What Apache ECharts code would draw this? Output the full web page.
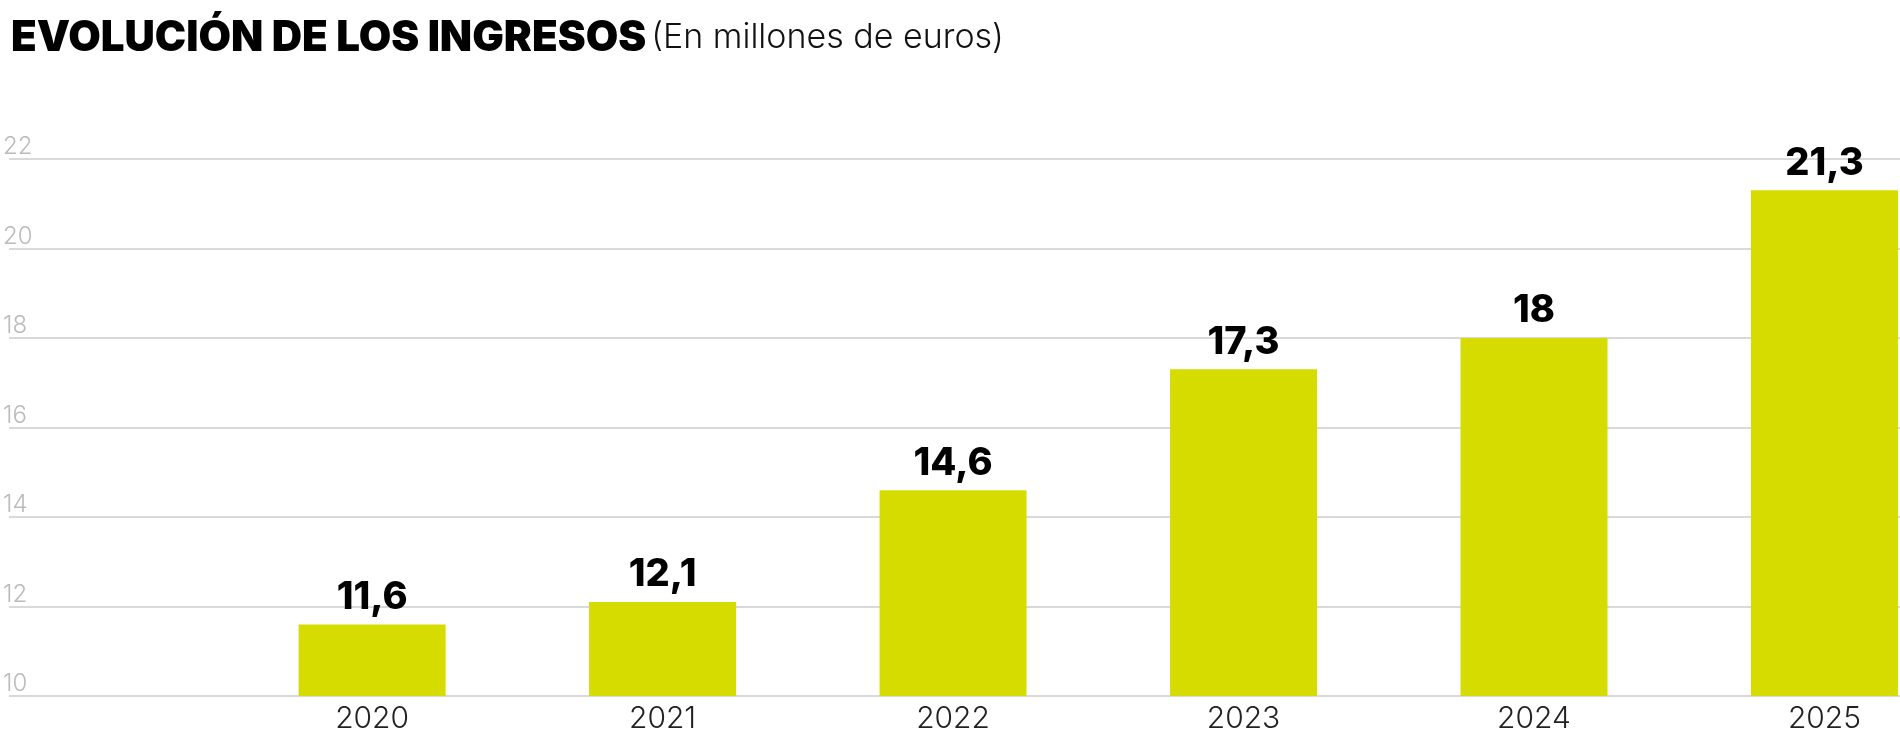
<!DOCTYPE html><html><head><meta charset="utf-8"><script src="https://cdn.jsdelivr.net/npm/echarts@6/dist/echarts.min.js"></script>
<style>body{margin:0}#c{width:1900px;height:739px}</style></head><body><div id="c"></div><script>
const years=['2020','2021','2022','2023','2024','2025'];
const values=[11.6,12.1,14.6,17.3,18,21.3];
const labels=['11,6','12,1','14,6','17,3','18','21,3'];
const yTicks=[10,12,14,16,18,20,22];
const ch=echarts.init(document.getElementById('c'));
ch.setOption({
 animation:false,
 title:{left:6,top:12,text:'{b|EVOLUCIÓN DE LOS INGRESOS} {l|(En millones de euros)}',
  textStyle:{rich:{b:{fontFamily:'Inter',fontWeight:900,fontSize:42,color:'#000'},l:{fontFamily:'Inter',fontWeight:300,fontSize:34,color:'#111'}}}},
 grid:{left:0,right:0,top:159,bottom:43},
 xAxis:{type:'value',min:-1.25,max:5.26,splitLine:{show:false},
  axisLine:{show:false},axisTick:{show:false},
  axisLabel:{customValues:[0,1,2,3,4,5],formatter:v=>years[Math.round(v)],fontFamily:'Inter',fontWeight:300,fontSize:30,color:'#222',margin:8}},
 yAxis:{type:'value',min:10,max:22,interval:2,
  axisLabel:{inside:true,verticalAlign:'bottom',fontFamily:'Inter',fontWeight:300,fontSize:24,color:'#bbb',margin:-6,
   formatter:v=>yTicks.includes(v)?String(v):''},
  splitLine:{lineStyle:{color:'#d9d9d9',width:2}},axisLine:{show:false},axisTick:{show:false}},
 series:[{type:'bar',barWidth:147,data:values.map((v,i)=>[i,v]),itemStyle:{color:'#d6dc00'},
  label:{show:true,position:'top',distance:8,formatter:p=>labels[p.dataIndex],fontFamily:'Inter',fontWeight:800,fontSize:38,color:'#000'}}]
});
</script></body></html>
